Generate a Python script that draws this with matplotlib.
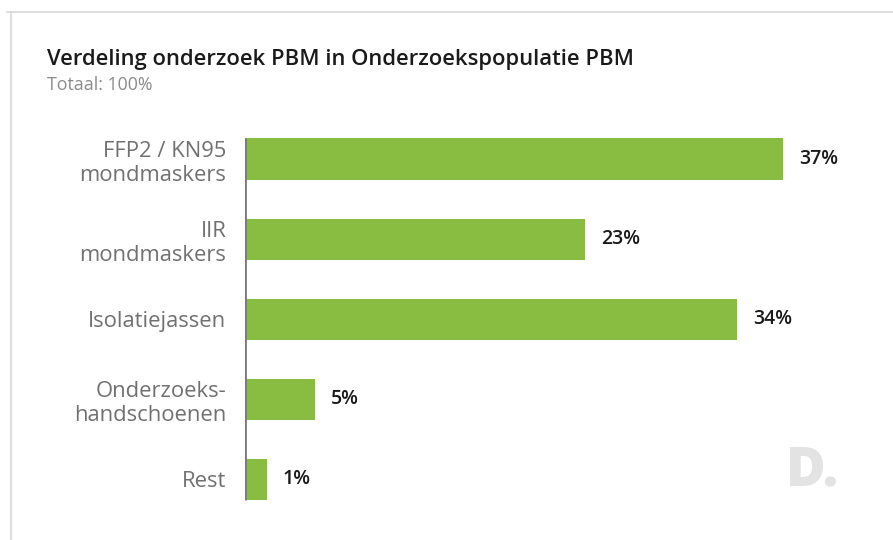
import matplotlib
matplotlib.use("Agg")
import matplotlib.pyplot as plt
from matplotlib.lines import Line2D

categories = ["FFP2 / KN95\nmondmaskers", "IIR\nmondmaskers", "Isolatiejassen",
              "Onderzoeks-\nhandschoenen", "Rest"]
values = [37.0, 23.4, 33.8, 4.8, 1.5]
labels = ["37%", "23%", "34%", "5%", "1%"]

plt.rcParams['font.family'] = ['Open Sans', 'DejaVu Sans']

W, H = 893, 540
fig = plt.figure(figsize=(W / 100, H / 100), dpi=100)

x0 = 245 / W
ax = fig.add_axes([x0, 1 - 519.5 / H, 14.55 * 40 / W, (519.5 - 119) / H])
pos = list(range(len(categories)))
ax.barh(pos, values, height=0.515, color="#88BD42", zorder=2)
ax.set_xlim(0, 40)
ax.set_ylim(len(categories) - 0.5, -0.5)
ax.vlines(0, -0.26, len(categories) - 1 + 0.26, color="#7a7a7a", lw=2.0, zorder=3)

for p, v, l in zip(pos, values, labels):
    ax.annotate(l, (v, p), xytext=(16, 0), textcoords="offset pixels",
                va="center", ha="left", fontsize=14, fontweight="semibold", color="#1a1a1a")

ax.set_yticks(pos)
ax.set_yticklabels(categories, fontsize=15.8, color="#707070", linespacing=1.2)
ax.tick_params(axis="y", length=0, pad=13.4)
ax.set_xticks([])
for s in ax.spines.values():
    s.set_visible(False)

fig.text(47 / W, 1 - 60 / H, "Verdeling onderzoek PBM in Onderzoekspopulatie PBM",
         fontsize=15.8, fontweight="semibold", color="#1a1a1a", va="center", ha="left")
fig.text(47 / W, 1 - 85 / H, "Totaal: 100%", fontsize=12.8, color="#8a8a8a",
         va="center", ha="left")

fig.text(786 / W, 1 - 485 / H, "D.", fontsize=39, fontweight="heavy", color="#e3e3e3",
         va="baseline", ha="left")

fig.add_artist(Line2D([7 / W, 1], [1 - 12 / H, 1 - 12 / H], transform=fig.transFigure,
                      color="#d8d8d8", lw=1.2))
fig.add_artist(Line2D([11 / W, 11 / W], [0, 1 - 12 / H], transform=fig.transFigure,
                      color="#d8d8d8", lw=1.2))

fig.savefig("out.png", dpi=100)
